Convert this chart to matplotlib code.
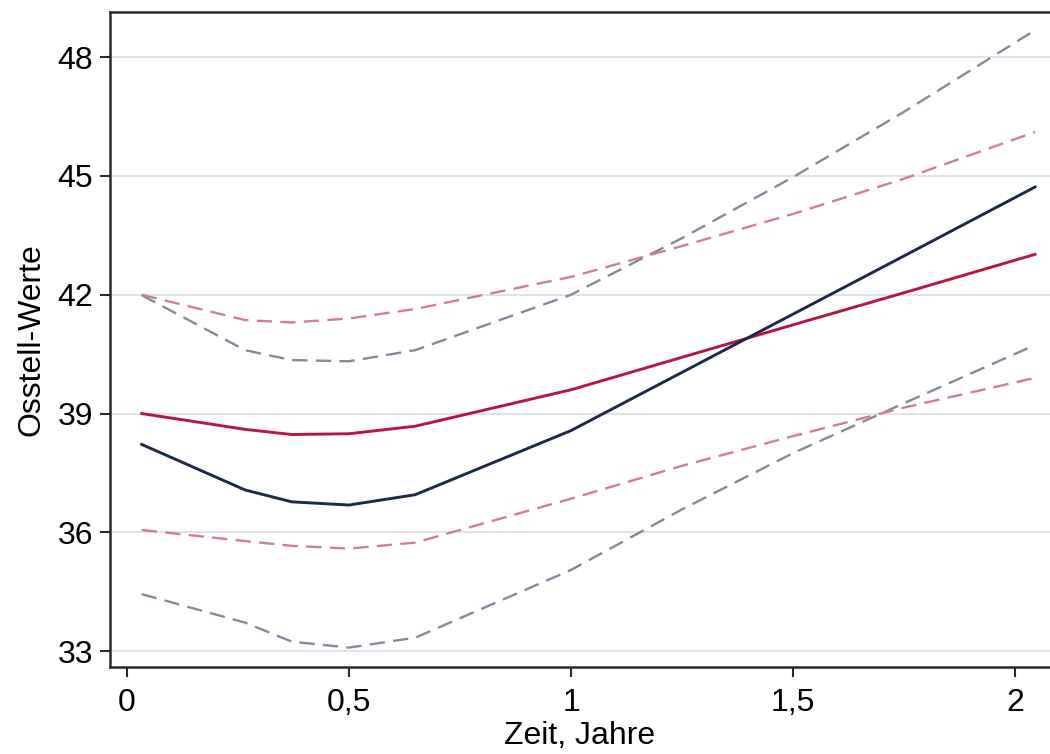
import matplotlib.pyplot as plt
import numpy as np

plt.rcParams['font.family'] = ['Liberation Sans', 'DejaVu Sans']

# Zeitpunkte (Jahre)
zeit = [0.033, 0.266, 0.371, 0.5, 0.649, 1.0, 1.25, 1.5, 1.75, 2.045]

# Gruppe 1 (navy)
navy_mittel = [38.22, 37.07, 36.77, 36.69, 36.95, 38.57, 40.04, 41.51, 42.98, 44.72]
navy_oben = [41.99, 40.60, 40.35, 40.32, 40.60, 42.00, 43.43, 44.97, 46.62, 48.68]
navy_unten = [34.44, 33.72, 33.24, 33.09, 33.34, 35.05, 36.58, 38.00, 39.26, 40.73]

# Gruppe 2 (rot)
rot_mittel = [39.00, 38.60, 38.47, 38.49, 38.68, 39.60, 40.42, 41.24, 42.05, 43.02]
rot_oben = [42.00, 41.36, 41.30, 41.40, 41.64, 42.45, 43.23, 44.04, 44.93, 46.11]
rot_unten = [36.06, 35.78, 35.66, 35.59, 35.74, 36.85, 37.68, 38.43, 39.15, 39.90]

x_ticks = [0, 0.5, 1, 1.5, 2]
x_labels = ['0', '0,5', '1', '1,5', '2']
y_ticks = [33, 36, 39, 42, 45, 48]

fig = plt.figure(figsize=(10.5, 7.54), dpi=100)
ax = fig.add_axes([0.1048, 0.1154, 0.8952, 0.8687])

navy = '#1b2a47'
rot = '#b5173f'
navy_hell = '#838a9e'
rot_hell = '#cf7f93'

ax.plot(zeit, navy_oben, color=navy_hell, lw=1.7, dashes=(6.5, 3.5))
ax.plot(zeit, navy_unten, color=navy_hell, lw=1.7, dashes=(6.5, 3.5))
ax.plot(zeit, rot_oben, color=rot_hell, lw=1.7, dashes=(6.5, 3.5))
ax.plot(zeit, rot_unten, color=rot_hell, lw=1.7, dashes=(6.5, 3.5))
ax.plot(zeit, rot_mittel, color=rot, lw=2.1)
ax.plot(zeit, navy_mittel, color=navy, lw=2.1)

ax.set_xlim(-0.0383, 2.0788)
ax.set_ylim(32.6, 49.14)
ax.set_xticks(x_ticks)
ax.set_xticklabels(x_labels)
ax.set_yticks(y_ticks)

ax.grid(axis='y', color='#dfe2e7', linewidth=1.4)
ax.set_axisbelow(True)

for s in ['left', 'bottom', 'top']:
    ax.spines[s].set_linewidth(1.8)
    ax.spines[s].set_color('#2b2b2b')
ax.spines['right'].set_visible(False)

ax.tick_params(axis='both', direction='out', length=7, width=1.5,
               color='#2b2b2b', labelsize=23, pad=5)
ax.tick_params(axis='x', pad=8)

ax.set_xlabel('Zeit, Jahre', fontsize=23, labelpad=2)
ax.set_ylabel('Osstell-Werte', fontsize=23, labelpad=8)

fig.savefig('out.png', dpi=100)
